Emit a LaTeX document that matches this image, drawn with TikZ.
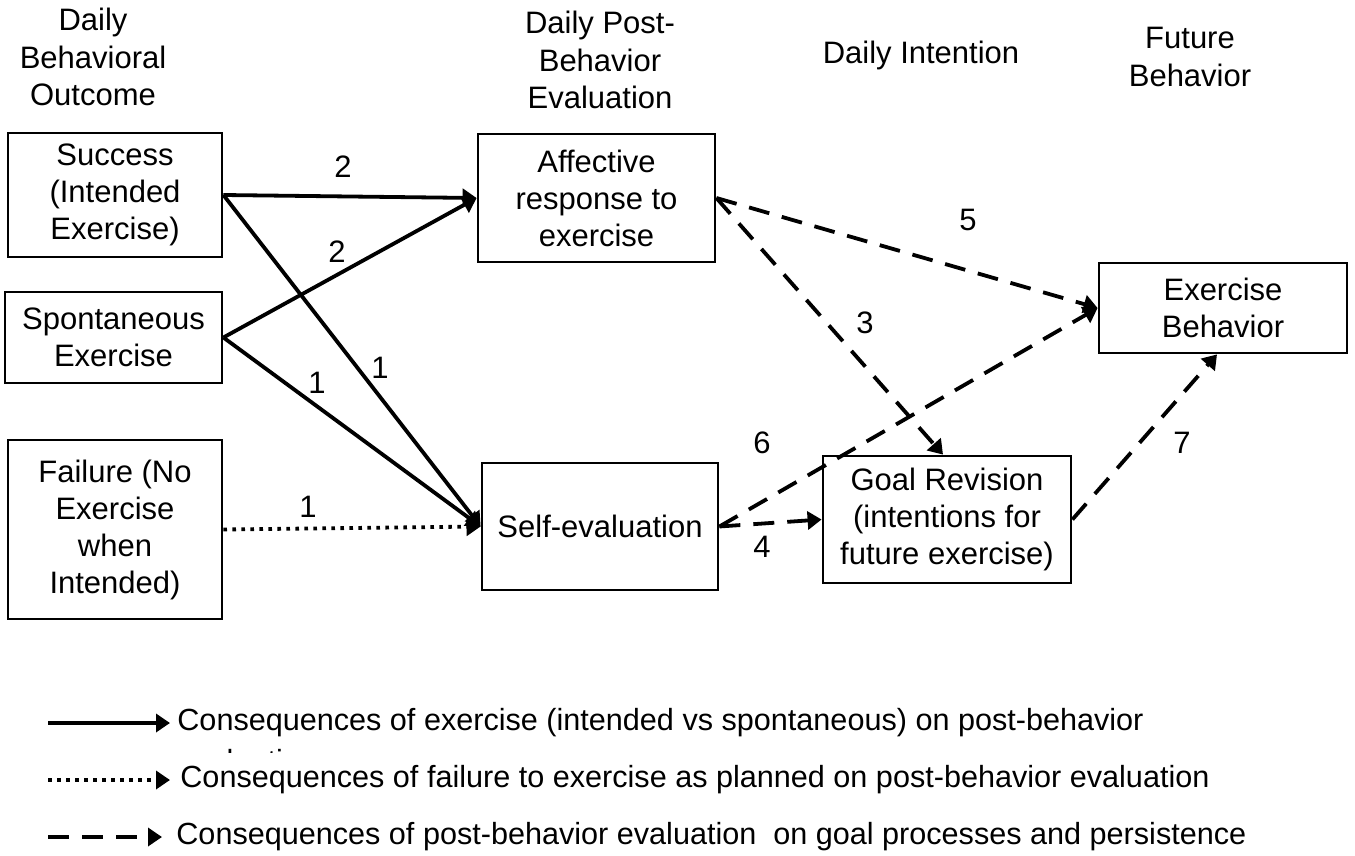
\documentclass[tikz,border=0pt]{standalone}
\usepackage{fontspec}
\setmainfont{Liberation Sans}
\usetikzlibrary{arrows.meta,calc}
\begin{document}
\begin{tikzpicture}[x=0.5pt,y=-0.5pt,
 box/.style={draw,line width=1.4pt,align=center,inner sep=0pt,font=\fontsize{15.5}{18.5}\selectfont},
 head/.style={align=center,inner sep=0pt,font=\fontsize{15.5}{18.8}\selectfont},
 lbl/.style={inner sep=0pt,font=\fontsize{15.5}{18}\selectfont},
 conn/.style={line width=1.9pt,-{Triangle[length=7pt,width=9pt]}},
 solidc/.style={conn},
 dashc/.style={conn,dash pattern=on 10.5pt off 6.5pt},
 dotc/.style={conn,dash pattern=on 1.8pt off 2.7pt},
 legtext/.style={anchor=west,inner sep=0pt,font=\fontsize{15.3}{18.5}\selectfont},
]
\useasboundingbox (0,0) rectangle (1355,856);
\fill[white] (0,0) rectangle (1355,856);

% headings
\node[head] (h1) at (93,57) {Daily\\Behavioral\\Outcome};
\node[head] (h2) at (600,60) {Daily Post-\\Behavior\\Evaluation};
\node[head] (h3) at (921,55) {Daily Intention};
\node[head] (h4) at (1190,57) {Future\\Behavior};

% boxes
\node[box,minimum width=107pt,minimum height=62pt] (succ) at (115,195) {Success\\(Intended\\Exercise)};
\node[box,minimum width=108.5pt,minimum height=45.5pt] (spon) at (113.5,337.5) {Spontaneous\\Exercise};
\node[box,minimum width=107pt,minimum height=89.5pt] (fail) at (115,529.5) {Failure (No\\Exercise\\when\\Intended)};
\node[box,minimum width=118.5pt,minimum height=64pt] (aff) at (596.5,198) {Affective\\response to\\exercise};
\node[box,minimum width=118pt,minimum height=63.5pt] (self) at (600,526.5) {Self-evaluation};
\node[box,minimum width=124pt,minimum height=63.5pt] (goal) at (947,519.5) {Goal Revision\\(intentions for\\future exercise)};
\node[box,minimum width=124pt,minimum height=45pt] (exer) at (1223,308) {Exercise\\Behavior};

% connectors
\draw[solidc] (succ.east) -- (aff.west);
\draw[solidc] (spon.east) -- (aff.west);
\draw[solidc] (succ.east) -- (self.west);
\draw[solidc] (spon.east) -- (self.west);
\draw[dotc] (fail.east) -- (self.west);
\draw[dashc] (aff.east) -- (exer.west);
\draw[dashc] (aff.east) -- ($(goal.north)+(-4,0)$);
\draw[dashc] (self.east) -- (exer.west);
\draw[dashc] (self.east) -- (goal.west);
\draw[dashc] (goal.east) -- ($(exer.south)+(-6,0)$);

% labels
\node[lbl] (n2a) at (343,167) {2};
\node[lbl] (n2b) at (337,252) {2};
\node[lbl] (n1a) at (317,383) {1};
\node[lbl] (n1b) at (380,368) {1};
\node[lbl] (n1c) at (308,507) {1};
\node[lbl] (n3) at (865,323) {3};
\node[lbl] (n4) at (762,547) {4};
\node[lbl] (n5) at (968,220) {5};
\node[lbl] (n6) at (762,443) {6};
\node[lbl] (n7) at (1182,443) {7};

% legend
\begin{scope}
\clip (170,745) rectangle (330,752);
\node[legtext,anchor=base west] (hid) at (177,771) {evaluation};
\end{scope}
\coordinate (la1) at (48,723);
\coordinate (la2) at (48,780);
\coordinate (la3) at (48,837);
\node[legtext] (lt1) at (177,723) {Consequences of exercise (intended vs spontaneous) on post-behavior};
\node[legtext] (lt2) at (180,780) {Consequences of failure to exercise as planned on post-behavior evaluation};
\node[legtext] (lt3) at (176,837) {Consequences of post-behavior evaluation\ \ on goal processes and persistence};
\draw[solidc] (la1) -- ($(lt1.west)+(-7,0)$);
\draw[dotc] (la2) -- ($(lt2.west)+(-10,0)$);
\draw[dashc] (la3) -- ($(lt3.west)+(-14,0)$);
\end{tikzpicture}
\end{document}
